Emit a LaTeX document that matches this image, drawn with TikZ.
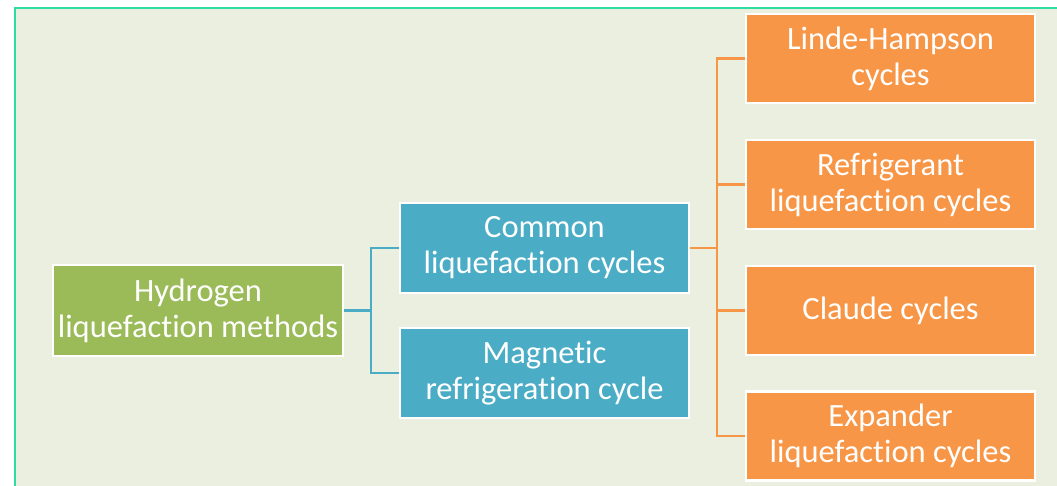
\documentclass[tikz,border=0pt]{standalone}
\usepackage{fontspec}
\setmainfont{Carlito}[Ligatures=NoCommon]
\usepackage{xcolor}
\usetikzlibrary{positioning}
\usetikzlibrary{calc}

\definecolor{bgback}{RGB}{235,239,223}
\definecolor{frameline}{RGB}{46,221,160}
\definecolor{methgreen}{RGB}{155,187,89}
\definecolor{cycblue}{RGB}{75,172,198}
\definecolor{cycorange}{RGB}{247,150,70}

\begin{document}
\begin{tikzpicture}[x=1pt,y=-1pt,
  box/.style={draw=white,line width=2.8pt,text=white,align=center,inner sep=0pt,
    minimum width=289pt,minimum height=89pt,font=\fontsize{32.5}{36}\selectfont},
  greenbox/.style={box,fill=methgreen},
  bluebox/.style={box,fill=cycblue},
  orangebox/.style={box,fill=cycorange},
  blueline/.style={draw=cycblue,line width=2.8pt},
  orangeline/.style={draw=cycorange,line width=2.8pt}]
\useasboundingbox (0,0) rectangle (1057,486);
\fill[bgback] (15,8) rectangle (1057,486);
\draw[frameline,line width=2.5pt] (15,486) -- (15,8) -- (1057,8);

\coordinate (g1) at (198,310.5);
\coordinate (b1) at (544.5,248);
\coordinate (b2) at (544.5,373);
\coordinate (o1) at (890.5,58.5);
\coordinate (o2) at (890.5,184.5);
\coordinate (o3) at (890.5,310.5);
\coordinate (o4) at (890.5,436);
\coordinate (j1) at (371,310.5);
\coordinate (j2) at (717,248);

  \draw[blueline] (g1) to[] (j1);
  \draw[blueline] (j1) |- (b1);
  \draw[blueline] (j1) |- (b2);
  \draw[orangeline] (b1) to[] (j2);
  \draw[orangeline] (j2) |- (o1);
  \draw[orangeline] (j2) |- (o2);
  \draw[orangeline] (j2) |- (o3);
  \draw[orangeline] (j2) |- (o4);

  \node (hydrogen) at (g1) [greenbox,minimum width=290pt,minimum height=91pt] {Hydrogen\\liquefaction methods};
  \node (common) at (b1) [bluebox,minimum height=90pt] {Common\\liquefaction cycles};
  \node (magnetic) at (b2) [bluebox,minimum height=90pt] {Magnetic\\refrigeration cycle};
  \node (linde) at (o1) [orangebox] {Linde-Hampson\\cycles};
  \node (refrigerant) at (o2) [orangebox] {Refrigerant\\liquefaction cycles};
  \node (claude) at (o3) [orangebox] {Claude cycles};
  \node (expander) at (o4) [orangebox] {Expander\\liquefaction cycles};
\end{tikzpicture}
\end{document}
